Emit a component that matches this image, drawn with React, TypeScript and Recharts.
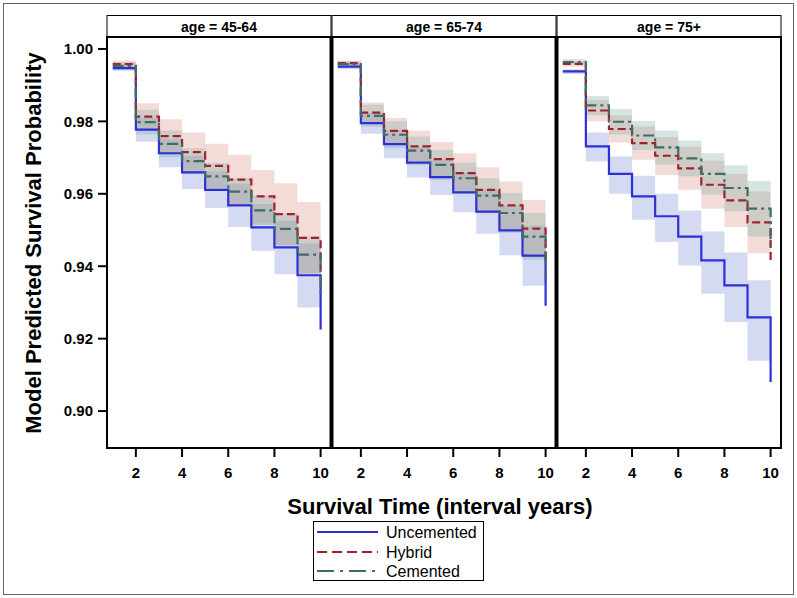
import { ComposedChart, Line, Area, XAxis, YAxis } from 'recharts'

const FONT = '"Liberation Sans", Arial, sans-serif'

// survival time (years), start of each interval
const YEARS = [1, 2, 3, 4, 5, 6, 7, 8, 9, 10]
const X_TICKS = [2, 4, 6, 8, 10]
const Y_TICKS = [0.9, 0.92, 0.94, 0.96, 0.98, 1.0]
const AGE_LABELS = ['age = 45-64', 'age = 65-74', 'age = 75+']

// age 45-64
const U1 = [0.9947, 0.9777, 0.9712, 0.9659, 0.9611, 0.9568, 0.9507, 0.9452, 0.9375, 0.9225]
const U1_LO = [0.994, 0.9744, 0.9673, 0.9613, 0.9561, 0.9508, 0.9443, 0.9378, 0.9286, 0.9286]
const U1_HI = [0.9953, 0.9809, 0.9752, 0.9705, 0.9662, 0.9628, 0.9572, 0.9526, 0.9463, 0.9463]
const H1 = [0.9958, 0.9813, 0.9759, 0.9715, 0.9677, 0.9639, 0.9593, 0.9544, 0.9478, 0.939]
const H1_LO = [0.9948, 0.9777, 0.9712, 0.9661, 0.9617, 0.957, 0.9519, 0.9458, 0.9378, 0.9378]
const H1_HI = [0.9968, 0.985, 0.9806, 0.9769, 0.9738, 0.9708, 0.9666, 0.9629, 0.9577, 0.9577]
const C1 = [0.9953, 0.9798, 0.9738, 0.969, 0.9648, 0.9606, 0.9554, 0.9503, 0.9432, 0.9317]
const C1_LO = [0.9942, 0.9764, 0.9701, 0.9654, 0.9611, 0.957, 0.9514, 0.9458, 0.9381, 0.9381]
const C1_HI = [0.9964, 0.9832, 0.9775, 0.9726, 0.9685, 0.9643, 0.9595, 0.9547, 0.9482, 0.9482]

// age 65-74
const U2 = [0.9951, 0.9795, 0.9737, 0.9686, 0.9646, 0.9604, 0.9551, 0.9499, 0.9429, 0.9291]
const U2_LO = [0.9944, 0.9766, 0.9698, 0.9645, 0.9597, 0.9549, 0.949, 0.943, 0.9346, 0.9346]
const U2_HI = [0.9959, 0.9824, 0.9776, 0.9728, 0.9695, 0.9659, 0.9613, 0.9568, 0.9512, 0.9512]
const H2 = [0.9961, 0.9824, 0.9774, 0.9731, 0.9696, 0.9657, 0.9611, 0.9568, 0.9504, 0.9413]
const H2_LO = [0.9953, 0.9797, 0.9739, 0.9687, 0.9649, 0.9602, 0.9549, 0.9502, 0.9425, 0.9425]
const H2_HI = [0.9968, 0.9852, 0.9809, 0.9774, 0.9743, 0.9712, 0.9673, 0.9634, 0.9583, 0.9583]
const C2 = [0.9958, 0.9815, 0.9763, 0.9719, 0.968, 0.9643, 0.9595, 0.9547, 0.9482, 0.9363]
const C2_LO = [0.9949, 0.9785, 0.9726, 0.9679, 0.9639, 0.96, 0.9546, 0.9492, 0.9418, 0.9418]
const C2_HI = [0.9966, 0.9846, 0.98, 0.9758, 0.9721, 0.9686, 0.9643, 0.9602, 0.9547, 0.9547]

// age 75+
const U3 = [0.9938, 0.9731, 0.9655, 0.9593, 0.9538, 0.9482, 0.9416, 0.9347, 0.9259, 0.908]
const U3_LO = [0.9931, 0.9689, 0.96, 0.9528, 0.9467, 0.9402, 0.9324, 0.9246, 0.9139, 0.9139]
const U3_HI = [0.9944, 0.9769, 0.9703, 0.965, 0.96, 0.9554, 0.9496, 0.9438, 0.9361, 0.9361]
const H3 = [0.9959, 0.983, 0.9779, 0.974, 0.9705, 0.967, 0.9625, 0.9582, 0.9521, 0.9407]
const H3_LO = [0.9951, 0.98, 0.9742, 0.9694, 0.9652, 0.9611, 0.9559, 0.9508, 0.9436, 0.9436]
const H3_HI = [0.9966, 0.986, 0.9817, 0.9786, 0.9757, 0.9729, 0.9691, 0.9655, 0.9606, 0.9606]
const C3 = [0.9964, 0.9844, 0.9799, 0.9761, 0.9728, 0.9698, 0.9655, 0.9616, 0.9559, 0.9447]
const C3_LO = [0.9957, 0.9817, 0.9764, 0.9721, 0.9681, 0.9648, 0.9598, 0.9552, 0.9482, 0.9482]
const C3_HI = [0.9972, 0.987, 0.9834, 0.9801, 0.9775, 0.9747, 0.9712, 0.9679, 0.9635, 0.9635]

type Series = { est: number[]; lo: number[]; hi: number[] }
type PanelData = { u: Series; h: Series; c: Series }

const PANELS: PanelData[] = [
  { u: { est: U1, lo: U1_LO, hi: U1_HI }, h: { est: H1, lo: H1_LO, hi: H1_HI }, c: { est: C1, lo: C1_LO, hi: C1_HI } },
  { u: { est: U2, lo: U2_LO, hi: U2_HI }, h: { est: H2, lo: H2_LO, hi: H2_HI }, c: { est: C2, lo: C2_LO, hi: C2_HI } },
  { u: { est: U3, lo: U3_LO, hi: U3_HI }, h: { est: H3, lo: H3_LO, hi: H3_HI }, c: { est: C3, lo: C3_LO, hi: C3_HI } },
]

const BLUE = '#2f2fd8'
const RED = '#a3202c'
const GREEN = '#3d6d63'

const rows = (p: PanelData) =>
  YEARS.map((t, i) => ({
    t,
    u: p.u.est[i],
    h: p.h.est[i],
    c: p.c.est[i],
    uBand: [p.u.lo[i], p.u.hi[i]],
    hBand: [p.h.lo[i], p.h.hi[i]],
    cBand: [p.c.lo[i], p.c.hi[i]],
  }))

const PLOT_TOP = 37
const PLOT_H = 411
const X_AXIS_H = 45
const PLOT_W = 224
const Y_DOMAIN: [number, number] = [0.8898, 1.0033]
const X_DOMAIN: [number, number] = [0.75, 10.45]

const tickStyle = { fontSize: 15, fontWeight: 700, fill: '#000', fontFamily: FONT }

function PanelChart({ data, left, showY }: { data: PanelData; left: number; showY: boolean }) {
  const yW = showY ? 107 : 0
  return (
    <div style={{ position: 'absolute', left, top: PLOT_TOP }}>
      <ComposedChart width={yW + PLOT_W} height={PLOT_H + X_AXIS_H} data={rows(data)} margin={{ top: 0, right: 0, bottom: 0, left: 0 }}>
        <XAxis
          dataKey="t"
          type="number"
          domain={X_DOMAIN}
          ticks={X_TICKS}
          allowDataOverflow
          height={X_AXIS_H}
          axisLine={false}
          tickSize={9}
          tickMargin={10}
          tickLine={{ stroke: '#000', strokeWidth: 2 }}
          tick={tickStyle}
        />
        <YAxis
          type="number"
          domain={Y_DOMAIN}
          ticks={Y_TICKS}
          allowDataOverflow
          hide={!showY}
          width={yW}
          axisLine={false}
          tickSize={9}
          tickMargin={5}
          tickLine={{ stroke: '#000', strokeWidth: 2 }}
          tick={tickStyle}
          tickFormatter={(v: number) => v.toFixed(2)}
        />
        <Area dataKey="uBand" type="stepAfter" stroke="none" fill="#6f86d0" fillOpacity={0.3} isAnimationActive={false} activeDot={false} />
        <Area dataKey="hBand" type="stepAfter" stroke="none" fill="#d68a7c" fillOpacity={0.3} isAnimationActive={false} activeDot={false} />
        <Area dataKey="cBand" type="stepAfter" stroke="none" fill="#78a8a0" fillOpacity={0.3} isAnimationActive={false} activeDot={false} />
        <Line dataKey="u" type="stepAfter" stroke={BLUE} strokeWidth={2.2} dot={false} isAnimationActive={false} />
        <Line dataKey="h" type="stepAfter" stroke={RED} strokeWidth={2.2} strokeDasharray="8 4" dot={false} isAnimationActive={false} />
        <Line dataKey="c" type="stepAfter" stroke={GREEN} strokeWidth={2.2} strokeDasharray="11 4 3 4" dot={false} isAnimationActive={false} />
      </ComposedChart>
    </div>
  )
}

const PANEL_LEFTS = [107, 332, 557]

export default function App() {
  return (
    <div style={{ position: 'absolute', left: 0, top: 0, width: 797, height: 598, background: '#fff', fontFamily: FONT }}>
      {PANELS.map((p, i) => (
        <PanelChart key={i} data={p} left={i === 0 ? 0 : PANEL_LEFTS[i]} showY={i === 0} />
      ))}
      <svg width={797} height={598} style={{ position: 'absolute', left: 0, top: 0, pointerEvents: 'none' }}>
        <rect x={3.5} y={3.5} width={790} height={591} fill="none" stroke="#666" strokeWidth={1} />
        {AGE_LABELS.map((lab, i) => (
          <g key={lab}>
            <rect x={PANEL_LEFTS[i]} y={15.5} width={PLOT_W} height={21.5} fill="#fff" stroke="#000" strokeWidth={1} />
            <text x={PANEL_LEFTS[i] + PLOT_W / 2} y={26.5} textAnchor="middle" dominantBaseline="central" fontSize={14} fontWeight={700}>
              {lab}
            </text>
          </g>
        ))}
        <rect x={107} y={37} width={674} height={411} fill="none" stroke="#000" strokeWidth={2} />
        <line x1={331.5} y1={37} x2={331.5} y2={448} stroke="#000" strokeWidth={4} />
        <line x1={556.5} y1={37} x2={556.5} y2={448} stroke="#000" strokeWidth={4} />
        <text x={440} y={506} textAnchor="middle" dominantBaseline="central" fontSize={22} fontWeight={700}>
          Survival Time (interval years)
        </text>
        <text x={33} y={243} transform="rotate(-90 33 243)" textAnchor="middle" dominantBaseline="central" fontSize={22} fontWeight={700}>
          Model Predicted Survival Probability
        </text>
        <rect x={313.5} y={521.5} width={170} height={59} fill="#fff" stroke="#000" strokeWidth={1} />
        <line x1={317} y1={532} x2={378} y2={532} stroke={BLUE} strokeWidth={2.2} />
        <line x1={317} y1={552} x2={378} y2={552} stroke={RED} strokeWidth={2.2} strokeDasharray="10 5" />
        <line x1={317} y1={571} x2={378} y2={571} stroke={GREEN} strokeWidth={2.2} strokeDasharray="17 6 3 6" />
        <text x={386} y={532} dominantBaseline="central" fontSize={16}>Uncemented</text>
        <text x={386} y={552} dominantBaseline="central" fontSize={16}>Hybrid</text>
        <text x={386} y={571} dominantBaseline="central" fontSize={16}>Cemented</text>
      </svg>
    </div>
  )
}
